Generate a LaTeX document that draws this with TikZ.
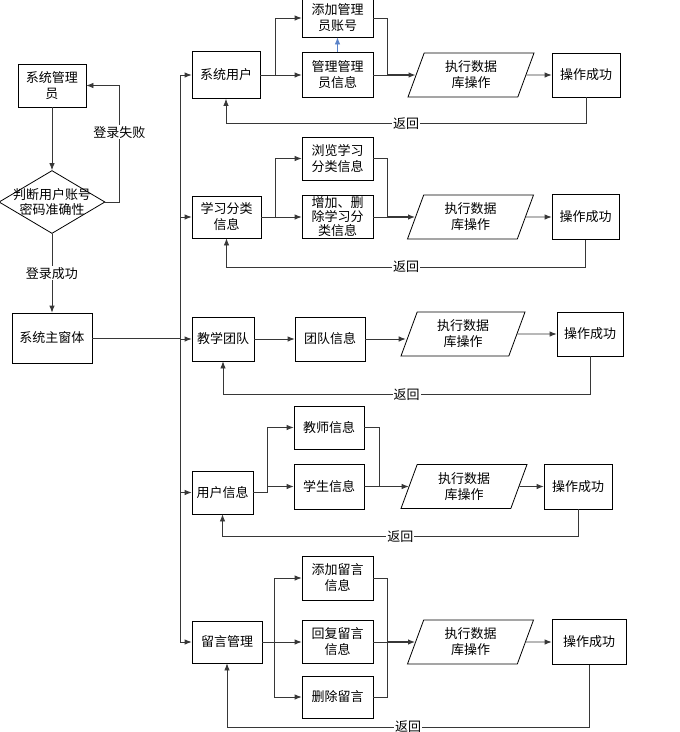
\documentclass[tikz,border=0pt]{standalone}
\usepackage{fontspec}
\setmainfont{Noto Sans CJK SC}
\usetikzlibrary{arrows.meta,shapes.geometric,calc}
\definecolor{linegray}{RGB}{55,55,55}
\definecolor{arrowblue}{RGB}{90,130,200}

\begin{document}
\begin{tikzpicture}[x=1pt, y=-1pt,
  every node/.style={font=\fontsize{13}{16}\selectfont, align=center, inner sep=0pt},
  box/.style n args={2}{draw, line width=0.8pt, minimum width=#1, minimum height=#2},
  io/.style={draw, line width=0.8pt, trapezium, trapezium left angle=60, trapezium right angle=120,
    trapezium stretches body, minimum width=126pt, minimum height=44pt},
  wire/.style={draw=linegray, line width=0.8pt},
  arr/.style={wire, -{Latex[length=7pt,width=5.5pt]}},
  bold/.style={line width=1.6pt},
  lbl/.style={fill=white, inner sep=1pt}]
\useasboundingbox (0,0) rectangle (680,732);
%--- login ---
\node[box={68pt}{43pt}] (adm) at (52,85.5) {系统管理\\员};
\node[diamond, draw, line width=0.8pt, minimum width=106pt, minimum height=63pt] (chk) at (52,202) {};
\node[font=\fontsize{13}{15}\selectfont] (chktxt) at (chk) {判断用户账号\\密码准确性};
\node[box={80pt}{50pt}] (win) at (52,338) {系统主窗体};
\draw[arr] (adm) -- (chk);
\draw[arr] (chk.east) -- ++(14,0) |- node[lbl,pos=0.3]{登录失败} (adm.east);
\draw[arr] (chk) -- node[lbl]{登录成功} (win);
% bus
\coordinate (bustop) at (180,75);
\coordinate (busbot) at (180,642);
\draw[wire] (win.east) -- (win.east -| bustop);
\draw[wire] (bustop) -- (busbot);

%--- row 1: system users ---
\node[box={68pt}{47pt}] (sys) at (226,75) {系统用户};
\node[box={71pt}{38pt}] (addadm) at (337.5,18) {添加管理\\员账号};
\node[box={71pt}{45pt}] (mgr) at (337.5,75) {管理管理\\员信息};
\node[io] (io1) at (471,75) {执行数据\\库操作};
\node[box={68pt}{44pt}] (ok1) at (586,75) {操作成功};
\coordinate (s1) at (275,75);
\coordinate (m1) at (387,75);
\draw[arr] (sys.west -| bustop) -- (sys.west);
\draw[wire] (sys.east) -- (s1);
\draw[arr] (s1) |- (addadm.west);
\draw[arr] (s1) -- (mgr.west);
\draw[arr, draw=arrowblue] (mgr) -- (addadm);
\draw[wire] (addadm.east) -| (m1);
\draw[wire] (mgr.east) -- (m1);
\draw[arr, bold] (m1) -- (io1.west);
\draw[arr] (io1.east) -- (ok1.west);
\draw[arr] (ok1.south) -- ++(0,26) -| node[lbl,pos=0.25]{返回} (sys.south);

%--- row 2: categories ---
\node[box={69pt}{42pt}] (cat) at (226.5,217) {学习分类\\信息};
\node[box={71pt}{43pt}] (browse) at (337.5,158.5) {浏览学习\\分类信息};
\node[box={71pt}{43pt}, font=\fontsize{13}{14}\selectfont] (edit) at (337.5,217) {增加、删\\除学习分\\类信息};
\node[io] (io2) at (470.5,217) {执行数据\\库操作};
\node[box={67pt}{45pt}] (ok2) at (585.5,217) {操作成功};
\coordinate (s2) at (275,217);
\coordinate (m2) at (387,217);
\draw[arr] (cat.west -| bustop) -- (cat.west);
\draw[wire] (cat.east) -- (s2);
\draw[arr] (s2) |- (browse.west);
\draw[arr] (s2) -- (edit.west);
\draw[wire] (browse.east) -| (m2);
\draw[wire] (edit.east) -- (m2);
\draw[arr, bold] (m2) -- (io2.west);
\draw[arr] (io2.east) -- (ok2.west);
\draw[arr] (ok2.south) -- ++(0,27) -| node[lbl,pos=0.25]{返回} (cat.south);

%--- row 3: teams ---
\node[box={62pt}{44pt}] (team) at (223,339) {教学团队};
\node[box={70pt}{44pt}] (tinfo) at (330,339) {团队信息};
\node[io, minimum width=124pt] (io3) at (463,334) {执行数据\\库操作};
\node[box={66pt}{44pt}] (ok3) at (590,334) {操作成功};
\draw[arr] (team.west -| bustop) -- (team.west);
\draw[arr] (team) -- (tinfo);
\draw[arr, shorten >=3pt] (tinfo.east) -- (tinfo.east -| io3.west);
\draw[arr] (io3.east) -- (ok3.west);
\draw[arr] (ok3.south) -- ++(0,38) -| node[lbl,pos=0.25]{返回} (team.south);

%--- row 4: users ---
\node[box={61pt}{43pt}] (user) at (222.5,492.5) {用户信息};
\node[box={70pt}{43pt}] (teach) at (329,427.5) {教师信息};
\node[box={70pt}{45pt}] (stu) at (329,486.5) {学生信息};
\node[io] (io4) at (464,486.5) {执行数据\\库操作};
\node[box={68pt}{45pt}] (ok4) at (578,486.5) {操作成功};
\coordinate (s4) at (267,492.5);
\coordinate (m4) at (379,486.5);
\draw[arr] (user.west -| bustop) -- (user.west);
\draw[wire] (user.east) -- (s4);
\draw[arr] (s4) |- (teach.west);
\draw[arr] (s4) |- (stu.west);
\draw[wire] (teach.east) -| (m4);
\draw[arr] (stu.east) -- (io4.west);
\draw[arr] (io4.east) -- (ok4.west);
\draw[arr] (ok4.south) -- ++(0,27) -| node[lbl,pos=0.25]{返回} (user.south);

%--- row 5: messages ---
\node[box={70pt}{42pt}] (msg) at (227,642) {留言管理};
\node[box={71pt}{44pt}] (addmsg) at (337.5,578) {添加留言\\信息};
\node[box={71pt}{43pt}] (reply) at (337.5,642) {回复留言\\信息};
\node[box={71pt}{42pt}] (del) at (337.5,697) {删除留言};
\node[io] (io5) at (470.5,642) {执行数据\\库操作};
\node[box={74pt}{45pt}] (ok5) at (589,642) {操作成功};
\coordinate (s5) at (274,642);
\coordinate (m5) at (387,642);
\draw[arr] (msg.west -| bustop) -- (msg.west);
\draw[wire] (msg.east) -- (s5);
\draw[arr] (s5) |- (addmsg.west);
\draw[arr] (s5) -- (reply.west);
\draw[arr] (s5) |- (del.west);
\draw[wire] (addmsg.east) -| (m5 |- del.east) -- (del.east);
\draw[wire] (reply.east) -- (m5);
\draw[arr, bold] (m5) -- (io5.west);
\draw[arr] (io5.east) -- (ok5.west);
\draw[arr] (ok5.south) -- ++(0,62) -| node[lbl,pos=0.25]{返回} (msg.south);
\end{tikzpicture}
\end{document}
